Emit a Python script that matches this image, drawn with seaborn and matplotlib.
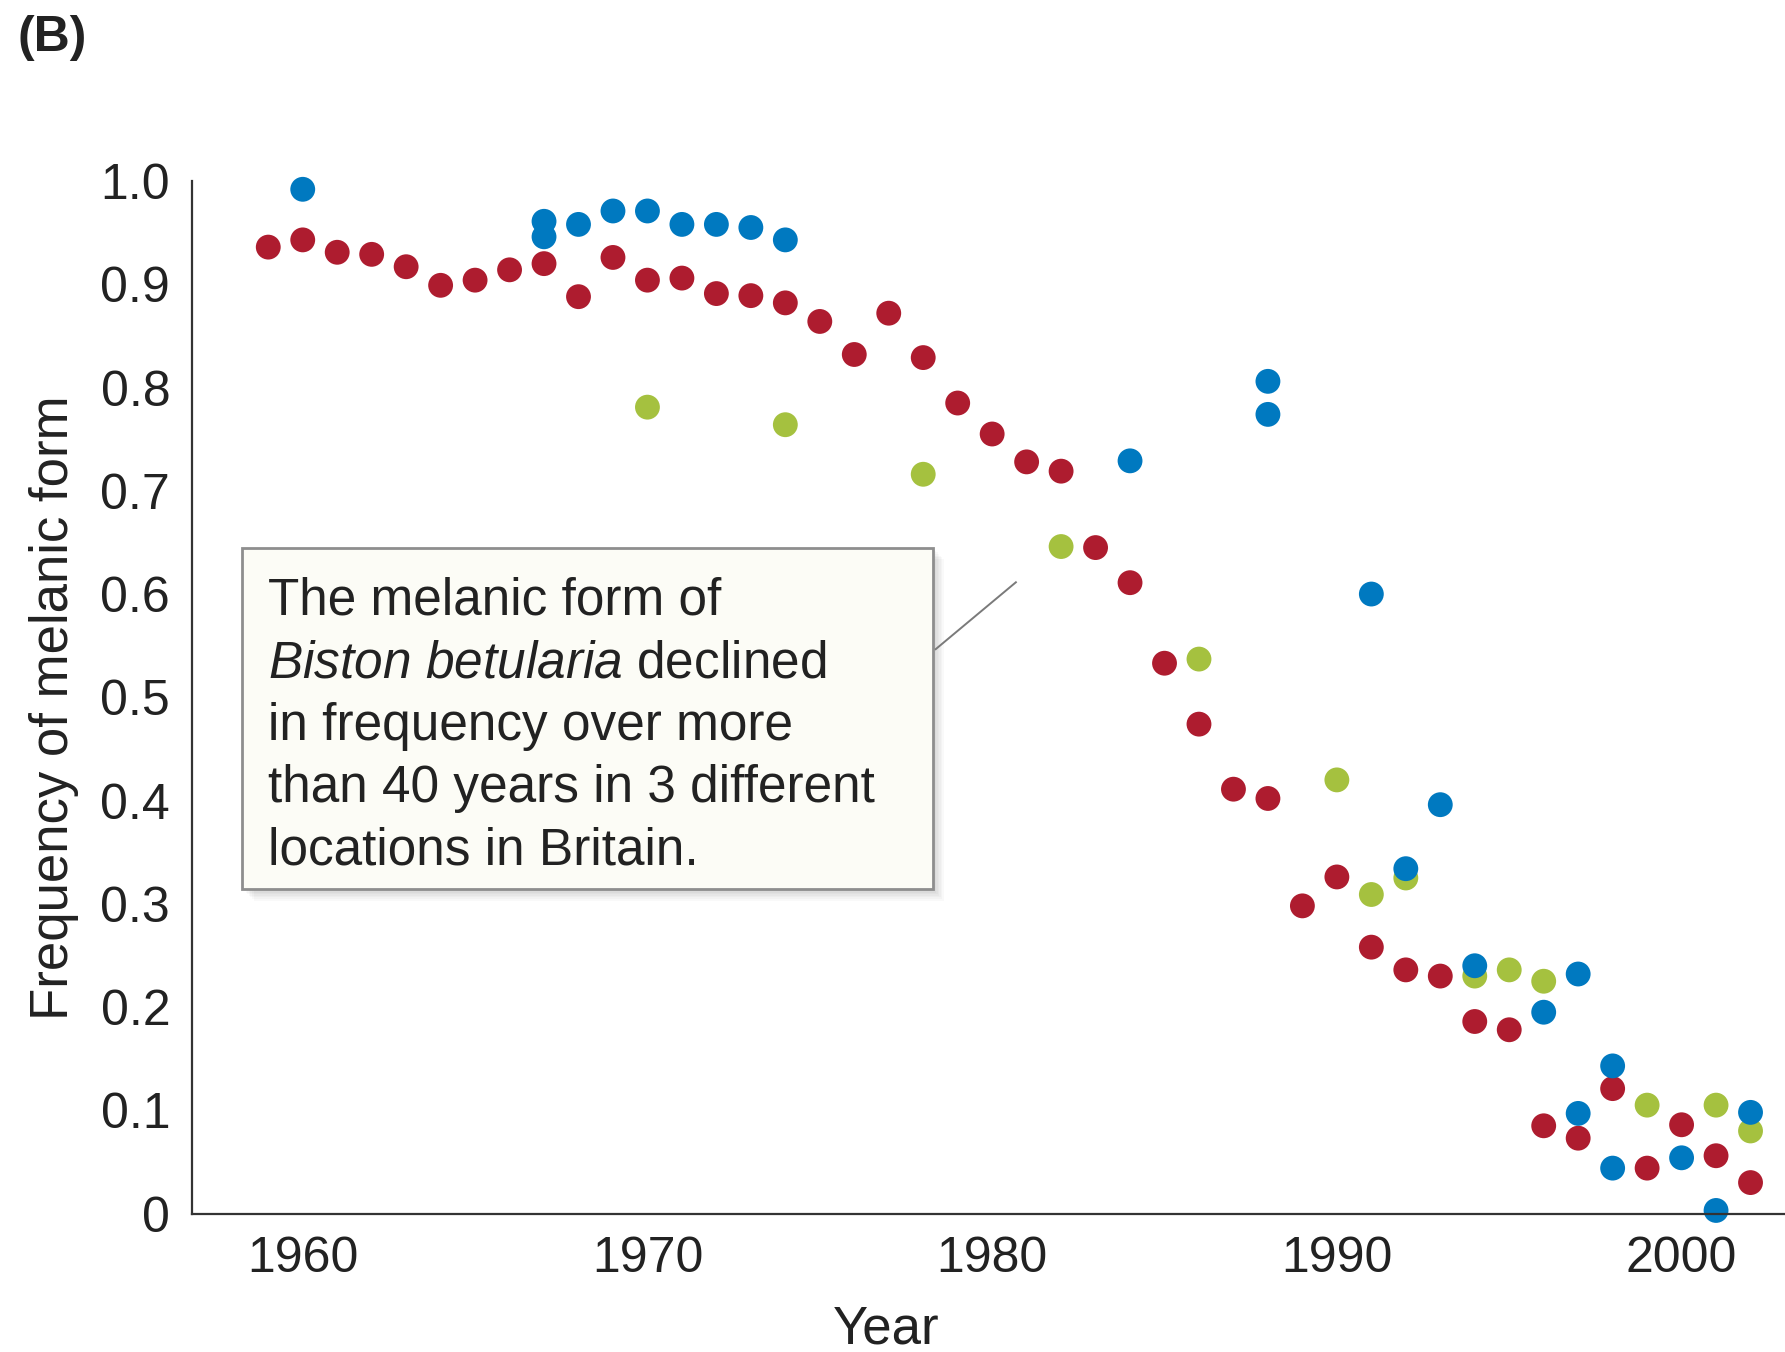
import matplotlib.pyplot as plt
import matplotlib.patches as mpatches
import matplotlib.transforms as mtransforms
import pandas as pd
import seaborn as sns

# values: year, frequency of melanic form
red_years = [1959, 1960, 1961, 1962, 1963, 1964, 1965, 1966, 1967, 1968,
             1969, 1970, 1971, 1972, 1973, 1974, 1975, 1976, 1977, 1978,
             1979, 1980, 1981, 1982, 1983, 1984, 1985, 1986, 1987, 1988,
             1989, 1990, 1991, 1992, 1993, 1994, 1995, 1996, 1997, 1998,
             1999, 2000, 2001, 2002]
red_freq = [0.936, 0.943, 0.931, 0.929, 0.917, 0.899, 0.904, 0.914, 0.920, 0.888,
            0.926, 0.904, 0.906, 0.891, 0.889, 0.882, 0.864, 0.832, 0.872, 0.829,
            0.785, 0.755, 0.728, 0.719, 0.645, 0.611, 0.533, 0.474, 0.411, 0.402,
            0.298, 0.326, 0.258, 0.236, 0.230, 0.186, 0.178, 0.085, 0.073, 0.121,
            0.044, 0.086, 0.056, 0.030]

green_years = [1970, 1974, 1978, 1982, 1986, 1990, 1991, 1992, 1994, 1995,
               1996, 1999, 2001, 2002]
green_freq = [0.781, 0.764, 0.716, 0.646, 0.537, 0.420, 0.309, 0.325, 0.230, 0.236,
              0.225, 0.105, 0.105, 0.080]

blue_years = [1960, 1967, 1967, 1968, 1969, 1970, 1971, 1972, 1973, 1974,
              1984, 1988, 1988, 1991, 1992, 1993, 1994, 1996, 1997, 1997,
              1998, 1998, 2000, 2001, 2002]
blue_freq = [0.992, 0.961, 0.946, 0.958, 0.971, 0.971, 0.958, 0.958, 0.955, 0.943,
             0.729, 0.806, 0.774, 0.600, 0.334, 0.396, 0.240, 0.195, 0.232, 0.097,
             0.143, 0.044, 0.054, 0.003, 0.098]

y_ticks = [0, 0.1, 0.2, 0.3, 0.4, 0.5, 0.6, 0.7, 0.8, 0.9, 1.0]
y_tick_labels = ["0", "0.1", "0.2", "0.3", "0.4", "0.5", "0.6", "0.7", "0.8", "0.9", "1.0"]
x_ticks = [1960, 1970, 1980, 1990, 2000]

note_lines = [
    "The melanic form of",
    r"$\mathit{Biston\ betularia}$ declined",
    "in frequency over more",
    "than 40 years in 3 different",
    "locations in Britain.",
]

df = pd.concat([
    pd.DataFrame({"year": red_years, "freq": red_freq, "site": "red"}),
    pd.DataFrame({"year": green_years, "freq": green_freq, "site": "green"}),
    pd.DataFrame({"year": blue_years, "freq": blue_freq, "site": "blue"}),
], ignore_index=True)
palette = {"red": "#ae1c2f", "green": "#a5c13f", "blue": "#0079c0"}

sns.set_theme(style="white")
plt.rcParams["font.family"] = ["Liberation Sans", "DejaVu Sans"]
plt.rcParams["mathtext.fontset"] = "custom"
plt.rcParams["mathtext.rm"] = "Liberation Sans"
plt.rcParams["mathtext.it"] = "Liberation Sans:italic"

ink = "#222222"
fig = plt.figure(figsize=(17.85, 13.52), dpi=100)
ax = fig.add_axes([0.1078, 0.1024, 0.8922, 0.7637])

sns.scatterplot(data=df, x="year", y="freq", hue="site", palette=palette,
                s=320, linewidth=0, edgecolor="none", legend=False,
                clip_on=False, ax=ax)

ax.set_xlim(1956.8, 2003.0)
ax.set_ylim(0, 1.0)
ax.set_yticks(y_ticks)
ax.set_yticklabels(y_tick_labels)
ax.set_xticks(x_ticks)
for side in ["top", "right"]:
    ax.spines[side].set_visible(False)
for side in ["left", "bottom"]:
    ax.spines[side].set_color("#333333")
    ax.spines[side].set_linewidth(1.6)
ax.tick_params(axis="both", direction="in", width=1.5, color="#333333",
               labelsize=36, labelcolor=ink, pad=16)
ax.tick_params(axis="y", length=19.5)
ax.tick_params(axis="x", length=24)

ax.set_xlabel("Year", fontsize=38, color=ink)
ax.set_ylabel("Frequency of melanic form", fontsize=38, color=ink)
ax.xaxis.set_label_coords(0.4355, -0.088)
ax.yaxis.set_label_coords(-0.071, 0.49)

# annotation box with soft shadow
bx0, bx1, by0, by1 = 1958.25, 1978.28, 0.314, 0.645
for i in range(1, 8):
    off = mtransforms.ScaledTranslation(i * 1.6 / 100, -i * 1.6 / 100, fig.dpi_scale_trans)
    ax.add_patch(mpatches.Rectangle((bx0, by0), bx1 - bx0, by1 - by0,
                                    facecolor="#000000", edgecolor="none", alpha=0.025,
                                    transform=ax.transData + off, zorder=2))
ax.add_patch(mpatches.Rectangle((bx0, by0), bx1 - bx0, by1 - by0,
                                facecolor="#fcfcf6", edgecolor="#8e8e8e",
                                linewidth=2, zorder=3))
ax.plot([1978.34, 1980.71], [0.546, 0.612], color="#7a7a7a", lw=1.4,
        zorder=3, solid_capstyle="butt")
for k, line in enumerate(note_lines):
    ax.text(1958.98, 0.580 - 0.0605 * k, line, fontsize=37, color=ink,
            va="baseline", ha="left", zorder=4)

fig.text(17 / 1785, 1 - 15 / 1352, "(B)", fontsize=36, fontweight="bold",
         color=ink, va="top", ha="left")

fig.savefig("out.png", dpi=100)
